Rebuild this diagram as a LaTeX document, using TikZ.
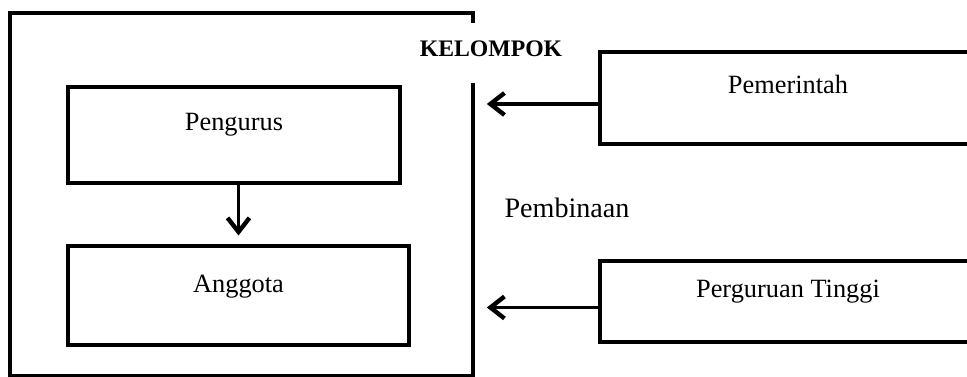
\documentclass[tikz,border=0pt]{standalone}
\usepackage{fontspec}
\setmainfont{Liberation Serif}
\usetikzlibrary{arrows.meta,positioning}

\begin{document}
\begin{tikzpicture}[x=0.02cm,y=-0.02cm]
        \tikzset{kotak/.style={draw,line width=2pt,inner xsep=0pt,inner ysep=0pt,
                font=\fontsize{15}{18}\selectfont},
            panah/.style={line width=2pt,-{Straight Barb[length=8pt,width=12.5pt,line width=2.5pt]}},
            judul/.style={fill=white,inner sep=0pt,minimum width=2.9cm,minimum height=1.2cm,
                font=\fontsize{13.5}{16}\selectfont\bfseries}}
        \useasboundingbox (0,0) rectangle (967,376);
        % kelompok
        \node[draw,line width=1.8pt,minimum width=9.26cm,minimum height=7.26cm] (kel) at (241.5,194.5) {};
        \node[judul,text depth=0.16cm] (judul) at (491,53) {KELOMPOK};
        \node[kotak,minimum width=6.64cm,text height=0.86cm,text depth=1.06cm] (peng) at (234,135) {Pengurus};
        \node[kotak,minimum width=6.82cm,text height=0.92cm,text depth=1.06cm] (angg) at (238.5,295.5) {Anggota};
        % pembina
        \node[kotak,minimum width=7.52cm,text height=0.82cm,text depth=1.02cm] (pem) at (788,98) {Pemerintah};
        \node[kotak,minimum width=7.52cm,text height=0.72cm,text depth=0.9cm] (pt) at (788,301.5) {Perguruan Tinggi};
        \node[anchor=base,font=\fontsize{16}{19}\selectfont] (bina) at (567,217) {Pembinaan};
        \draw[panah,shorten >=5pt] (peng.south -| angg.north) -- (angg.north);
        \draw[panah,shorten >=7pt] ([yshift=-3.4pt]pem.west) -- ([yshift=-3.4pt]pem.west -| kel.east);
        \draw[panah,shorten >=7pt] ([yshift=-3.4pt]pt.west) -- ([yshift=-3.4pt]pt.west -| kel.east);
    \end{tikzpicture}
\end{document}
